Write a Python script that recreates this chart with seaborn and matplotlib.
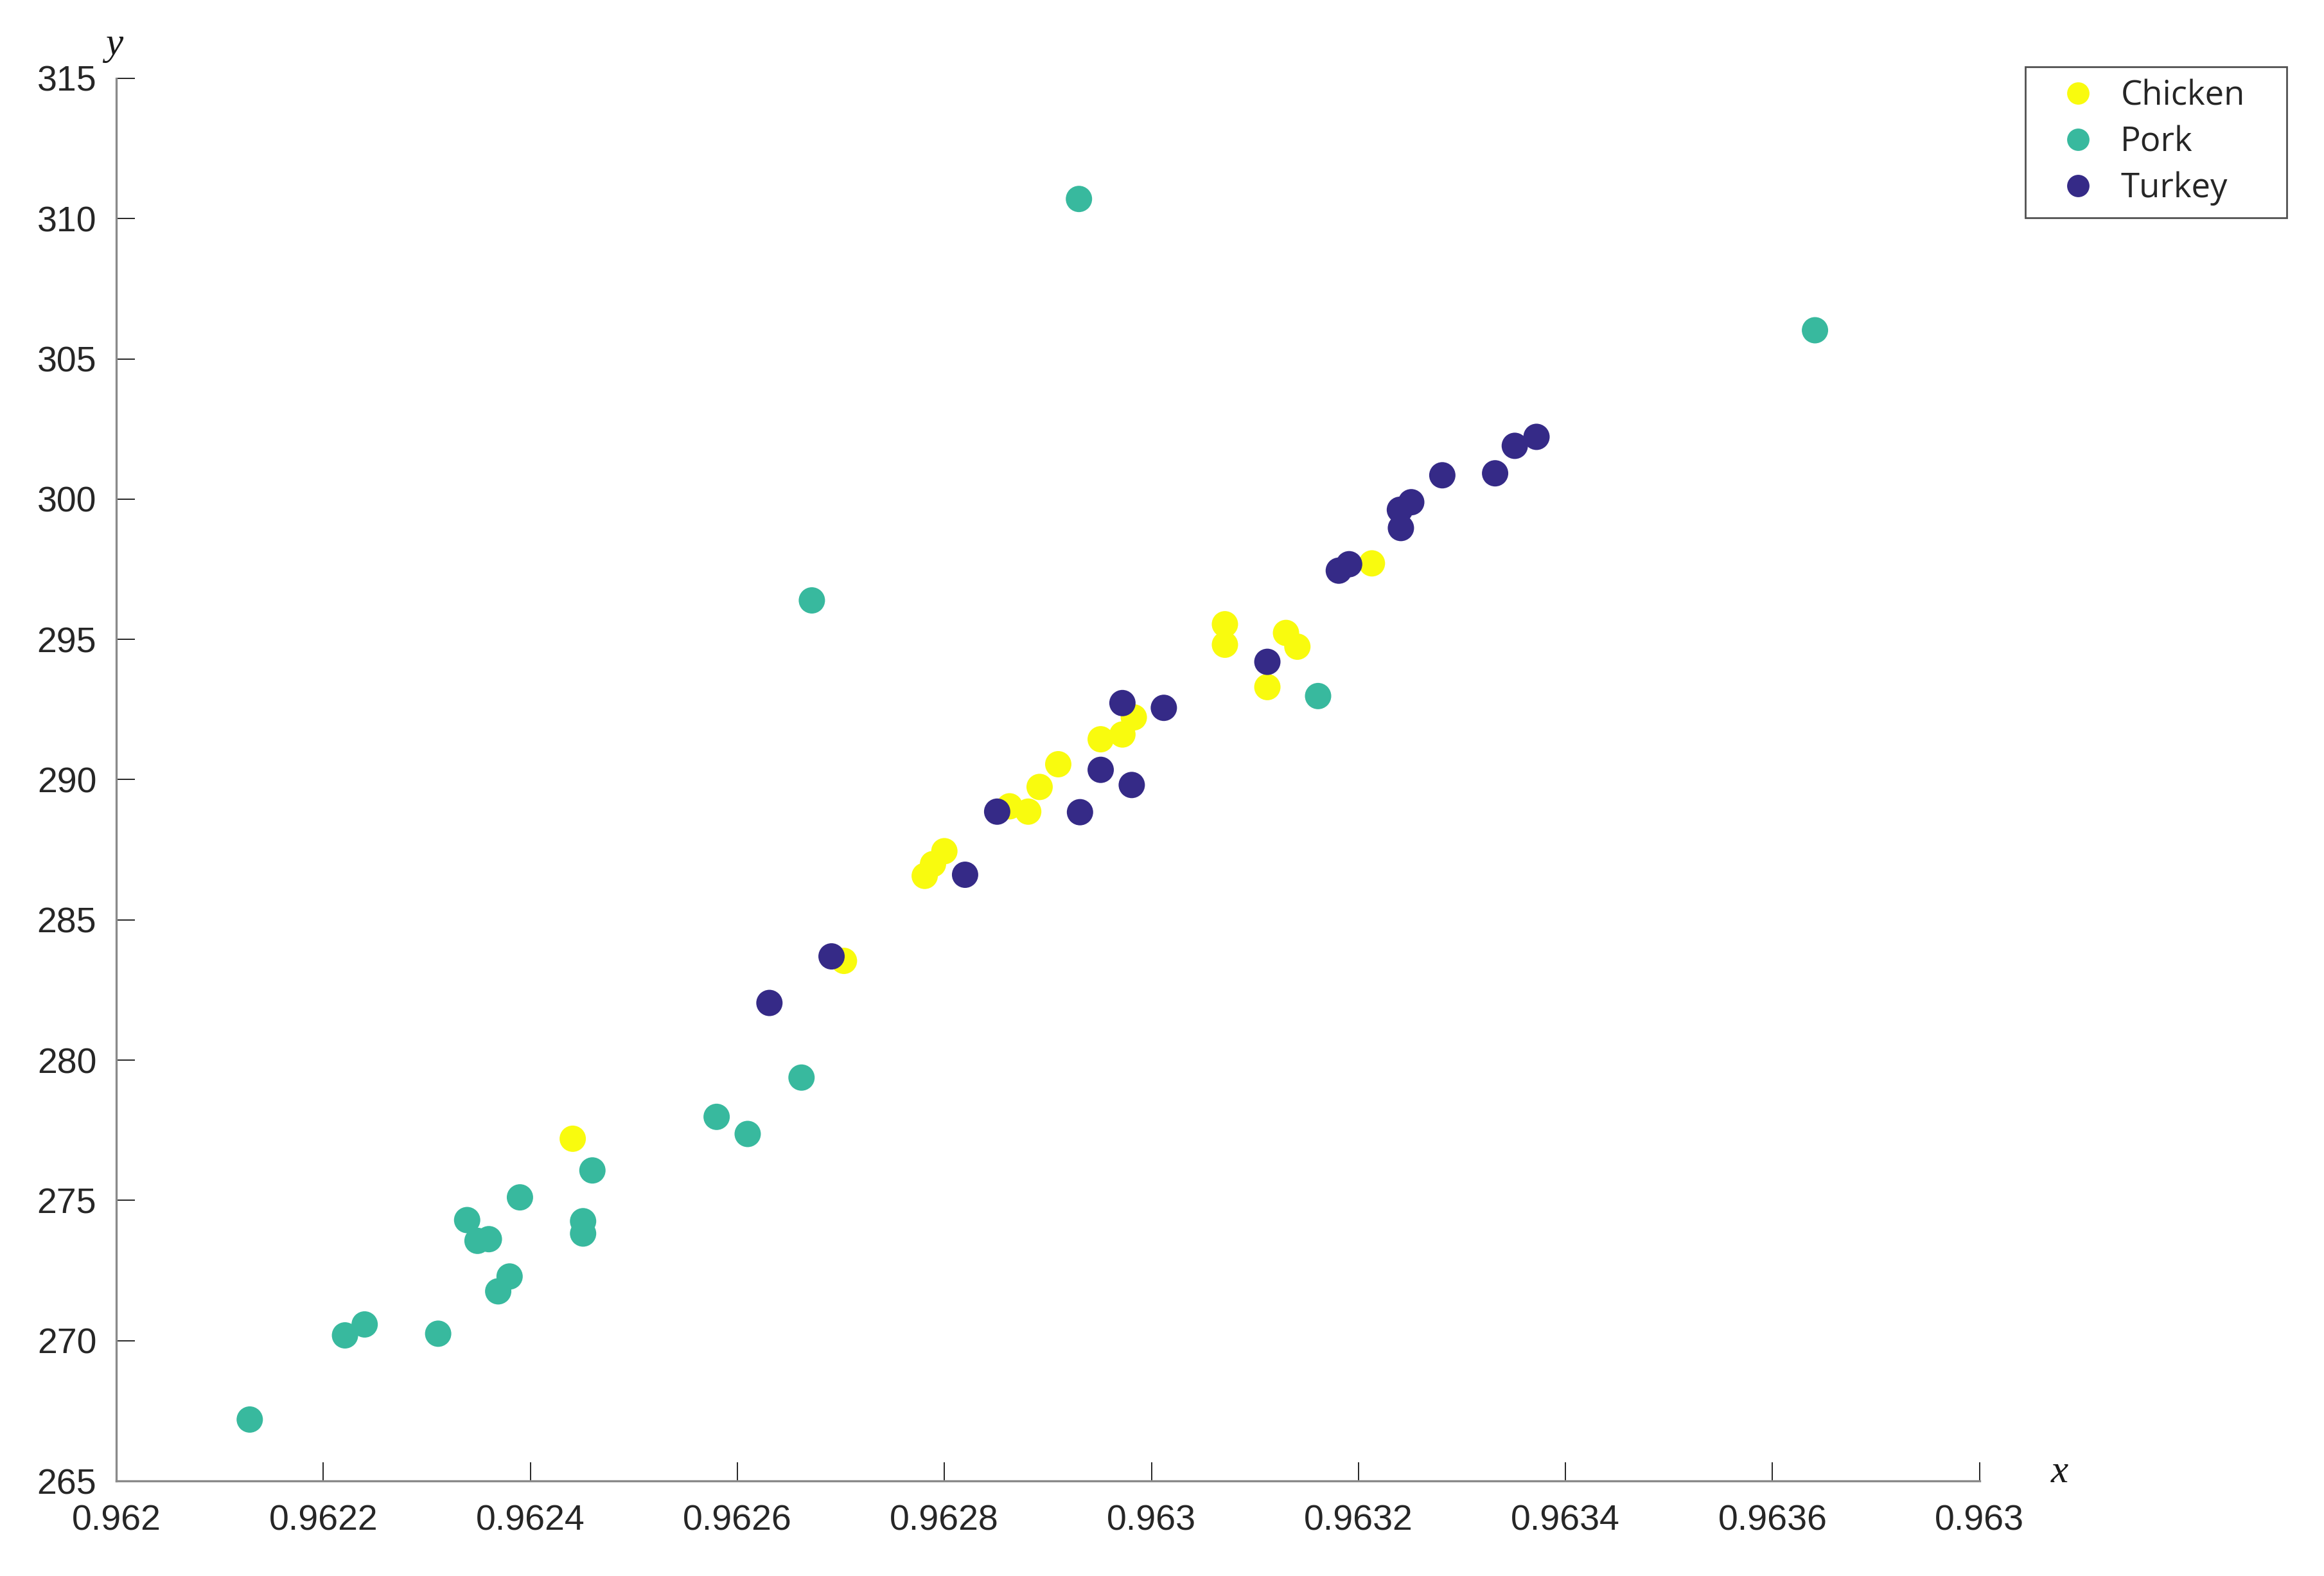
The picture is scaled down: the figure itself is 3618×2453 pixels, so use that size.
import matplotlib
matplotlib.use("Agg")
import matplotlib.pyplot as plt
import seaborn as sns
import pandas as pd

# ---- data ----
categories = ["Chicken", "Pork", "Turkey"]

chicken_x = [0.962441, 0.962703, 0.962781, 0.962789, 0.962800, 0.962881, 0.962863, 0.962892,
             0.962910, 0.962951, 0.962972, 0.962983, 0.963112, 0.963141, 0.963071, 0.963130,
             0.963071, 0.963213]
chicken_y = [277.20, 283.54, 286.57, 286.99, 287.45, 288.86, 289.05, 289.74,
             290.55, 291.44, 291.61, 292.22, 293.30, 294.74, 294.81, 295.23,
             295.54, 297.71]

pork_x = [0.962129, 0.962221, 0.962240, 0.962311, 0.962339, 0.962349, 0.962360, 0.962369,
          0.962380, 0.962390, 0.962451, 0.962451, 0.962460, 0.962580, 0.962610, 0.962662,
          0.962672, 0.962930, 0.963161, 0.963641]
pork_y = [267.19, 270.19, 270.58, 270.25, 274.30, 273.56, 273.62, 271.76,
          272.29, 275.11, 274.26, 273.82, 276.07, 277.98, 277.37, 279.38,
          296.39, 310.70, 292.98, 306.02]

turkey_x = [0.962631, 0.962691, 0.962820, 0.962851, 0.962931, 0.962981, 0.962951, 0.963012,
            0.962972, 0.963112, 0.963181, 0.963191, 0.963241, 0.963240, 0.963251, 0.963281,
            0.963332, 0.963351, 0.963372]
turkey_y = [282.04, 283.70, 286.61, 288.86, 288.84, 289.81, 290.35, 292.56,
            292.73, 294.20, 297.45, 297.68, 298.97, 299.62, 299.89, 300.85,
            300.92, 301.90, 302.22]

x_ticks = [0.962, 0.9622, 0.9624, 0.9626, 0.9628, 0.963, 0.9632, 0.9634, 0.9636, 0.9638]
x_tick_labels = ["0.962", "0.9622", "0.9624", "0.9626", "0.9628", "0.963",
                 "0.9632", "0.9634", "0.9636", "0.963"]
y_ticks = [265, 270, 275, 280, 285, 290, 295, 300, 305, 310, 315]
y_tick_labels = [str(v) for v in y_ticks]

colors = {"Chicken": "#F9FB0E", "Pork": "#38B99E", "Turkey": "#352A87"}

df = pd.concat([
    pd.DataFrame({"x": chicken_x, "y": chicken_y, "group": "Chicken"}),
    pd.DataFrame({"x": pork_x, "y": pork_y, "group": "Pork"}),
    pd.DataFrame({"x": turkey_x, "y": turkey_y, "group": "Turkey"}),
], ignore_index=True)

# ---- figure ----
sns.set_theme(style="white")
plt.rcParams["font.family"] = ["Liberation Sans", "DejaVu Sans"]

fig = plt.figure(figsize=(36.18, 24.53), dpi=100)
ax = fig.add_axes([0.0500, 0.0603, 0.8018, 0.8900])

sns.scatterplot(data=df, x="x", y="y", hue="group", hue_order=categories,
                palette=colors, s=870, linewidth=0, ax=ax, legend=True)

ax.set_xlim(0.962, 0.9638)
ax.set_ylim(265, 315)
ax.set_xticks(x_ticks)
ax.set_xticklabels(x_tick_labels, fontsize=40, color="#262626")
ax.set_yticks(y_ticks)
ax.set_yticklabels(y_tick_labels, fontsize=40, color="#262626")
ax.set_xlabel("")
ax.set_ylabel("")

for side in ["top", "right"]:
    ax.spines[side].set_visible(False)
for side in ["left", "bottom"]:
    ax.spines[side].set_color("#8a8a8a")
    ax.spines[side].set_linewidth(2.4)

ax.tick_params(axis="both", which="major", direction="in", length=21, width=1.4,
               color="#262626", bottom=True, left=True, top=False, right=False)
ax.tick_params(axis="x", pad=26)
ax.tick_params(axis="y", pad=22)

# axis name labels (MATLAB-style italic)
fig.text(178 / 3618, 1 - 70 / 2453, "y", family=["Liberation Serif"], style="italic",
         fontsize=44, ha="center", va="center", color="#1a1a1a")
fig.text(3206 / 3618, 1 - 2292 / 2453, "x", family=["Liberation Serif"], style="italic",
         fontsize=44, ha="center", va="center", color="#1a1a1a")

handles, labels = ax.get_legend_handles_labels()
leg = ax.legend(handles, labels, loc="upper left", mode="expand",
                bbox_to_anchor=(3153 / 3618, 1 - 337 / 2453, 407 / 3618, 233 / 2453),
                bbox_transform=fig.transFigure,
                frameon=True, fancybox=False, markerscale=0.85,
                borderpad=0.36, labelspacing=0.35, handlelength=2.38, handletextpad=0.07,
                borderaxespad=0,
                prop={"family": ["Open Sans", "DejaVu Sans"], "size": 38})
leg.get_frame().set_edgecolor("#262626")
leg.get_frame().set_linewidth(2.0)

fig.savefig("out.png", dpi=100, facecolor="white")
